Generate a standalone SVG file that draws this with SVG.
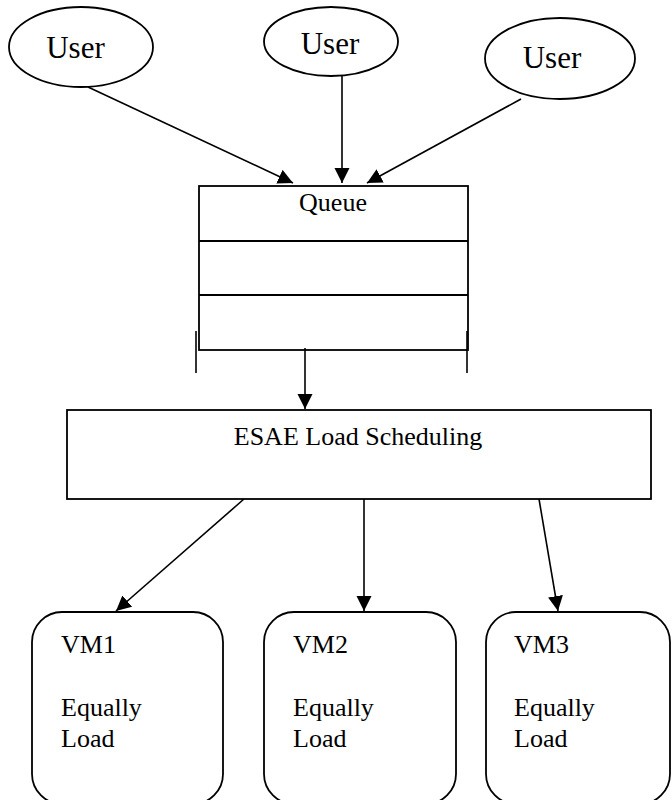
<svg xmlns="http://www.w3.org/2000/svg" width="672" height="800" viewBox="0 0 672 800">
<defs>
<marker id="ah" markerWidth="16" markerHeight="16" refX="15" refY="7.5" orient="auto" markerUnits="userSpaceOnUse">
<path d="M0,0 L15,7.5 L0,15 Z" fill="#000"/>
</marker>
<style>
.t{font-family:"Liberation Serif","Times New Roman",serif;fill:#000}
.s{fill:#fff;stroke:#000;stroke-width:1.8}
.c{stroke:#000;stroke-width:1.6;fill:none;marker-end:url(#ah)}
</style>
</defs>
<rect width="672" height="800" fill="#fff"/>
<g id="user1">
<ellipse class="s" cx="81" cy="47" rx="72" ry="40"/>
<text class="t" x="75.5" y="58" font-size="31" text-anchor="middle">User</text>
</g>
<g id="user2">
<ellipse class="s" cx="331" cy="41.5" rx="67" ry="34.5"/>
<text class="t" x="330" y="54" font-size="31" text-anchor="middle">User</text>
</g>
<g id="user3">
<ellipse class="s" cx="560" cy="58.5" rx="75" ry="40.5"/>
<text class="t" x="552" y="68" font-size="31" text-anchor="middle">User</text>
</g>
<g id="queue">
<rect class="s" x="199" y="186" width="269" height="164" stroke-width="2"/>
<line x1="199" y1="241" x2="468" y2="241" stroke="#000" stroke-width="2"/>
<line x1="199" y1="295" x2="468" y2="295" stroke="#000" stroke-width="2"/>
<line x1="196" y1="331" x2="196" y2="373" stroke="#000" stroke-width="1.6"/>
<line x1="467" y1="331" x2="467" y2="373" stroke="#000" stroke-width="1.6"/>
<text class="t" x="333" y="211" font-size="26" text-anchor="middle">Queue</text>
</g>
<g id="esae">
<rect class="s" x="67" y="410" width="584" height="89" stroke-width="2"/>
<text class="t" x="358" y="445" font-size="26" text-anchor="middle">ESAE Load Scheduling</text>
</g>
<g id="vm1">
<rect class="s" x="32" y="612" width="191" height="192" rx="30" ry="30"/>
<text class="t" x="61" y="653" font-size="26">VM1</text>
<text class="t" x="61" y="716" font-size="26">Equally</text>
<text class="t" x="61" y="747" font-size="26">Load</text>
</g>
<g id="vm2">
<rect class="s" x="264" y="612" width="192" height="192" rx="30" ry="30"/>
<text class="t" x="293" y="653" font-size="26">VM2</text>
<text class="t" x="293" y="716" font-size="26">Equally</text>
<text class="t" x="293" y="747" font-size="26">Load</text>
</g>
<g id="vm3">
<rect class="s" x="486" y="612" width="184" height="192" rx="30" ry="30"/>
<text class="t" x="514" y="653" font-size="26">VM3</text>
<text class="t" x="514" y="716" font-size="26">Equally</text>
<text class="t" x="514" y="747" font-size="26">Load</text>
</g>
<g id="connectors">
<line class="c" x1="88" y1="87" x2="293" y2="183"/>
<line class="c" x1="342" y1="76" x2="342" y2="183"/>
<line class="c" x1="521" y1="99" x2="367" y2="183"/>
<line class="c" x1="305" y1="348" x2="305" y2="409" stroke-width="2"/>
<line class="c" x1="244" y1="499" x2="116" y2="611"/>
<line class="c" x1="364" y1="499" x2="364" y2="611"/>
<line class="c" x1="539" y1="499" x2="558" y2="611"/>
</g>
</svg>
